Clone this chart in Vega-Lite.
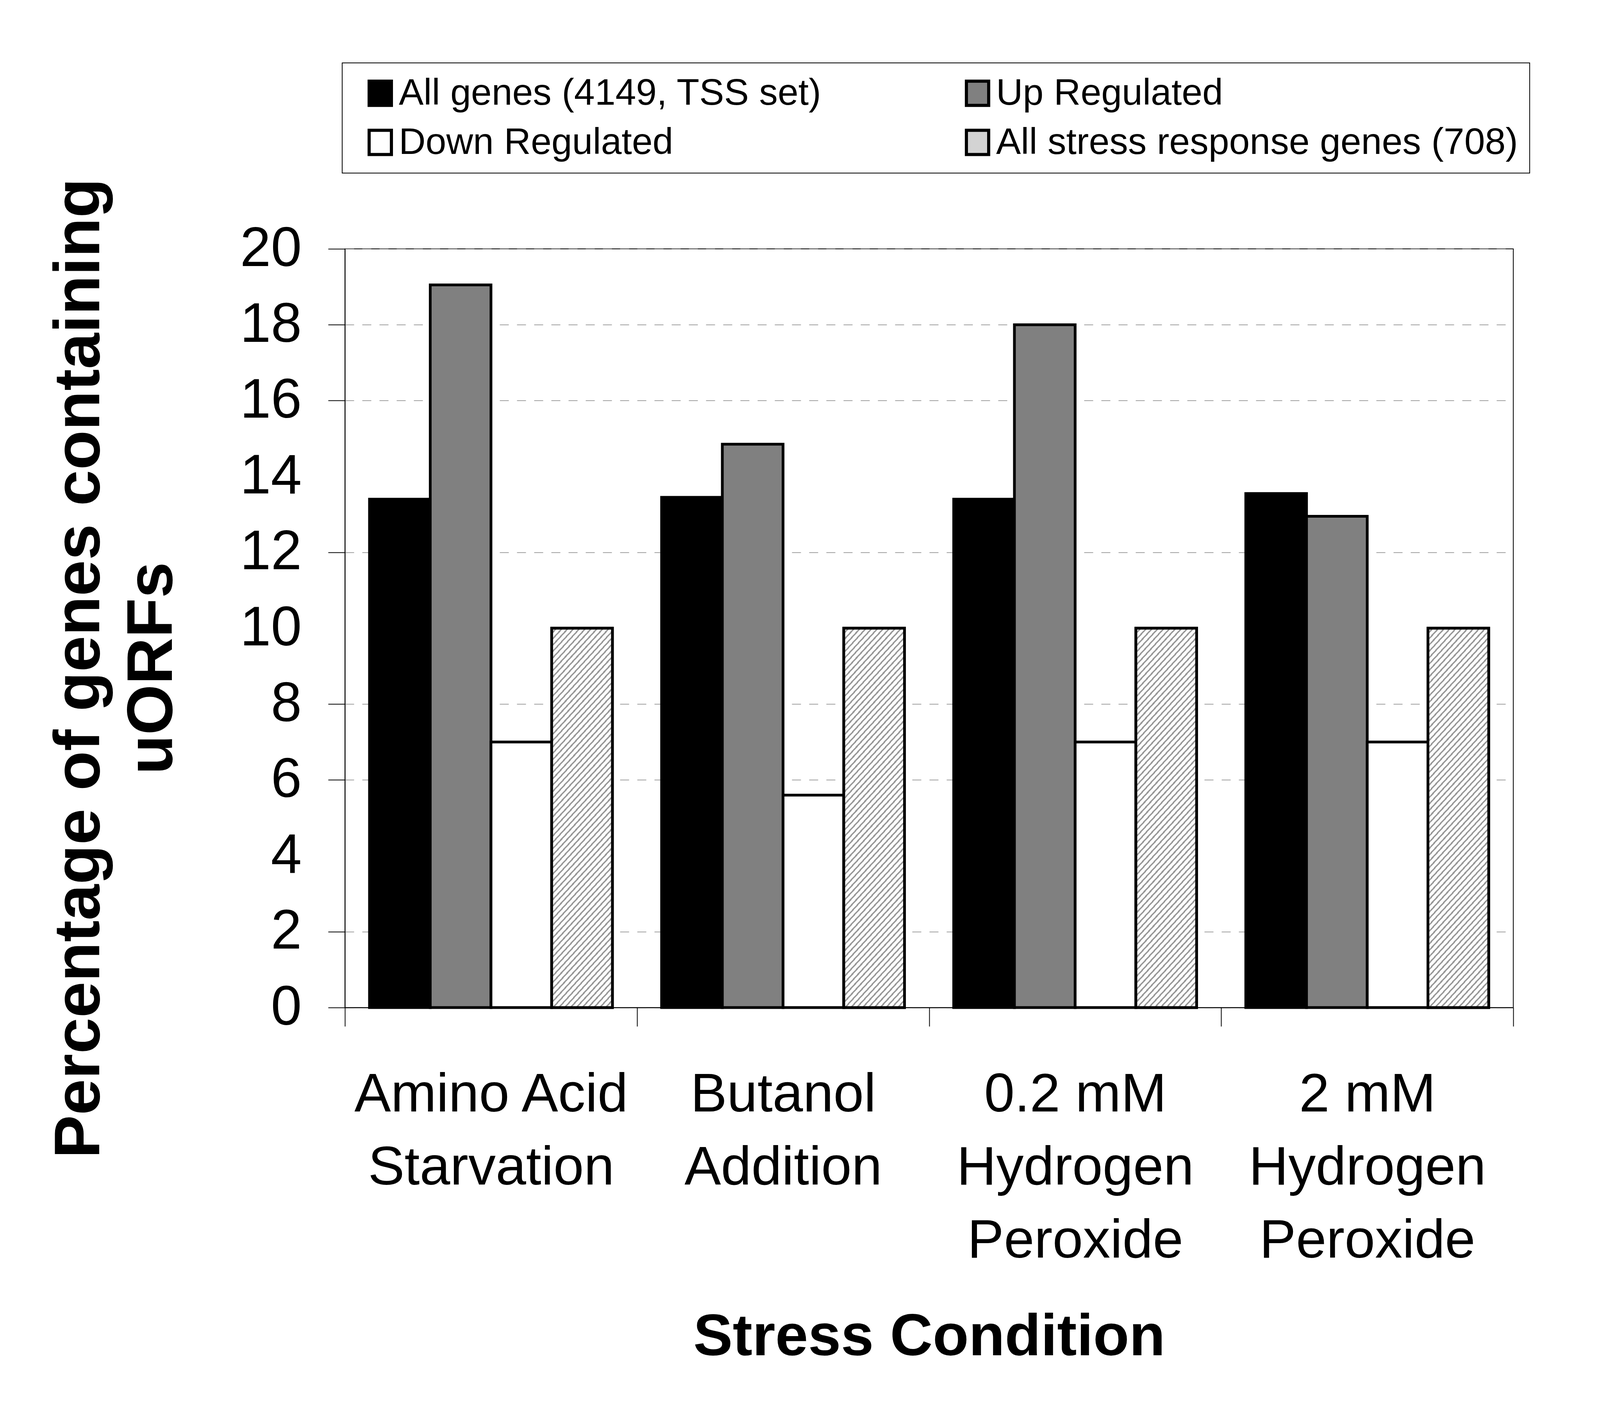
{
  "$schema": "https://vega.github.io/schema/vega-lite/v6.json",
  "autosize": {"type": "none"},
  "padding": {"left": 883, "top": 637, "right": 579, "bottom": 1025},
  "width": 2991,
  "height": 1942,
  "background": "white",
  "config": {
    "font": "Liberation Sans",
    "view": {"stroke": "black", "strokeWidth": 2},
    "legend": {"strokeWidth": 2}
  },
  "data": {
    "values": [
      {"condition": "Amino Acid Starvation", "series": "All genes (4149, TSS set)", "value": 13.4},
      {"condition": "Amino Acid Starvation", "series": "Up Regulated", "value": 19.05},
      {"condition": "Amino Acid Starvation", "series": "Down Regulated", "value": 7.0},
      {"condition": "Amino Acid Starvation", "series": "All stress response genes (708)", "value": 10.0},
      {"condition": "Butanol Addition", "series": "All genes (4149, TSS set)", "value": 13.45},
      {"condition": "Butanol Addition", "series": "Up Regulated", "value": 14.85},
      {"condition": "Butanol Addition", "series": "Down Regulated", "value": 5.6},
      {"condition": "Butanol Addition", "series": "All stress response genes (708)", "value": 10.0},
      {"condition": "0.2 mM Hydrogen Peroxide", "series": "All genes (4149, TSS set)", "value": 13.4},
      {"condition": "0.2 mM Hydrogen Peroxide", "series": "Up Regulated", "value": 18.0},
      {"condition": "0.2 mM Hydrogen Peroxide", "series": "Down Regulated", "value": 7.0},
      {"condition": "0.2 mM Hydrogen Peroxide", "series": "All stress response genes (708)", "value": 10.0},
      {"condition": "2 mM Hydrogen Peroxide", "series": "All genes (4149, TSS set)", "value": 13.55},
      {"condition": "2 mM Hydrogen Peroxide", "series": "Up Regulated", "value": 12.95},
      {"condition": "2 mM Hydrogen Peroxide", "series": "Down Regulated", "value": 7.0},
      {"condition": "2 mM Hydrogen Peroxide", "series": "All stress response genes (708)", "value": 10.0}
    ]
  },
  "encoding": {
    "x": {
      "field": "condition",
      "type": "nominal",
      "scale": {
        "domain": ["Amino Acid Starvation", "Butanol Addition", "0.2 mM Hydrogen Peroxide", "2 mM Hydrogen Peroxide"],
        "paddingInner": 0,
        "paddingOuter": 0
      },
      "axis": {
        "title": "Stress Condition",
        "titleFontSize": 151,
        "titleFontWeight": "bold",
        "titleColor": "black",
        "titleBaseline": "alphabetic",
        "titleY": 889,
        "titleLimit": 4000,
        "labelExpr": "datum.label == 'Amino Acid Starvation' ? ['Amino Acid', 'Starvation'] : datum.label == 'Butanol Addition' ? ['Butanol', 'Addition'] : datum.label == '0.2 mM Hydrogen Peroxide' ? ['0.2 mM', 'Hydrogen', 'Peroxide'] : datum.label == '2 mM Hydrogen Peroxide' ? ['2 mM', 'Hydrogen', 'Peroxide'] : ''",
        "labelFontSize": 140,
        "labelLineHeight": 187,
        "labelColor": "black",
        "labelAngle": 0,
        "labelPadding": 106,
        "labelLimit": 4000,
        "labelOverlap": false,
        "labelBaseline": "top",
        "tickBand": "extent",
        "tickSize": 48,
        "tickColor": "black",
        "tickWidth": 2,
        "domainColor": "black",
        "domainWidth": 2,
        "grid": false
      }
    },
    "xOffset": {
      "field": "series",
      "type": "nominal",
      "scale": {
        "domain": ["All genes (4149, TSS set)", "Up Regulated", "Down Regulated", "All stress response genes (708)"],
        "paddingInner": 0,
        "paddingOuter": 0.405
      }
    },
    "y": {
      "field": "value",
      "type": "quantitative",
      "scale": {"domain": [0, 20], "nice": false},
      "axis": {
        "title": ["Percentage of genes containing", "uORFs"],
        "titleFontSize": 166,
        "titleFontWeight": "bold",
        "titleColor": "black",
        "titleLineHeight": 186,
        "titleAngle": -90,
        "titleAlign": "center",
        "titleBaseline": "alphabetic",
        "titleX": -630,
        "titleY": 1073,
        "titleLimit": 4000,
        "values": [0, 2, 4, 6, 8, 10, 12, 14, 16, 18, 20],
        "labelFontSize": 142,
        "labelColor": "black",
        "labelPadding": 68,
        "tickSize": 43,
        "tickColor": "black",
        "tickWidth": 2,
        "tickOpacity": {"condition": {"test": "datum.value == 4 || datum.value == 10 || datum.value == 14", "value": 0}, "value": 1},
        "domainColor": "black",
        "domainWidth": 2,
        "grid": true,
        "gridColor": "#808080",
        "gridWidth": 1.5,
        "gridDash": [23, 21],
        "gridOpacity": {"condition": {"test": "datum.value == 4 || datum.value == 10 || datum.value == 14", "value": 0}, "value": 1}
      }
    }
  },
  "layer": [
    {
      "mark": {"type": "bar", "stroke": "black", "strokeWidth": 7},
      "encoding": {
        "color": {
          "field": "series",
          "type": "nominal",
          "scale": {
            "domain": ["All genes (4149, TSS set)", "Up Regulated", "Down Regulated", "All stress response genes (708)"],
            "range": ["#000000", "#808080", "#ffffff", "#d3d3d3"]
          },
          "legend": {
            "title": null,
            "orient": "none",
            "legendX": -7,
            "legendY": -476,
            "direction": "horizontal",
            "columns": 2,
            "columnPadding": 331,
            "rowPadding": 30,
            "padding": 30,
            "strokeColor": "black",
            "fillColor": "white",
            "symbolType": "M-0.92,-1H0.92V1H-0.92Z",
            "symbolSize": 3844,
            "symbolStrokeColor": "black",
            "symbolStrokeWidth": 8,
            "symbolOffset": 20,
            "labelFontSize": 95,
            "labelColor": "black",
            "labelOffset": 0,
            "labelLimit": 4000,
            "encoding": {
              "symbols": {
                "stroke": {"value": "black"},
                "strokeWidth": {"value": 8}
              }
            }
          }
        }
      }
    },
    {
      "transform": [{"filter": "datum.series == 'All stress response genes (708)'"}],
      "mark": {
        "type": "bar",
        "stroke": "black",
        "strokeWidth": 7,
        "fill": {
          "gradient": "linear", "x1": 0, "y1": 0, "x2": 0.1983, "y2": 1.1396,
          "stops": [
            {"offset": 0, "color": "#fff"}, {"offset": 0.0095, "color": "#fff"}, {"offset": 0.0095, "color": "#999"}, {"offset": 0.0143, "color": "#999"},
            {"offset": 0.0143, "color": "#fff"}, {"offset": 0.0238, "color": "#fff"}, {"offset": 0.0238, "color": "#999"}, {"offset": 0.0286, "color": "#999"},
            {"offset": 0.0286, "color": "#fff"}, {"offset": 0.0381, "color": "#fff"}, {"offset": 0.0381, "color": "#999"}, {"offset": 0.0429, "color": "#999"},
            {"offset": 0.0429, "color": "#fff"}, {"offset": 0.0524, "color": "#fff"}, {"offset": 0.0524, "color": "#999"}, {"offset": 0.0571, "color": "#999"},
            {"offset": 0.0571, "color": "#fff"}, {"offset": 0.0667, "color": "#fff"}, {"offset": 0.0667, "color": "#999"}, {"offset": 0.0714, "color": "#999"},
            {"offset": 0.0714, "color": "#fff"}, {"offset": 0.081, "color": "#fff"}, {"offset": 0.081, "color": "#999"}, {"offset": 0.0857, "color": "#999"},
            {"offset": 0.0857, "color": "#fff"}, {"offset": 0.0952, "color": "#fff"}, {"offset": 0.0952, "color": "#999"}, {"offset": 0.1, "color": "#999"},
            {"offset": 0.1, "color": "#fff"}, {"offset": 0.1095, "color": "#fff"}, {"offset": 0.1095, "color": "#999"}, {"offset": 0.1143, "color": "#999"},
            {"offset": 0.1143, "color": "#fff"}, {"offset": 0.1238, "color": "#fff"}, {"offset": 0.1238, "color": "#999"}, {"offset": 0.1286, "color": "#999"},
            {"offset": 0.1286, "color": "#fff"}, {"offset": 0.1381, "color": "#fff"}, {"offset": 0.1381, "color": "#999"}, {"offset": 0.1429, "color": "#999"},
            {"offset": 0.1429, "color": "#fff"}, {"offset": 0.1524, "color": "#fff"}, {"offset": 0.1524, "color": "#999"}, {"offset": 0.1571, "color": "#999"},
            {"offset": 0.1571, "color": "#fff"}, {"offset": 0.1667, "color": "#fff"}, {"offset": 0.1667, "color": "#999"}, {"offset": 0.1714, "color": "#999"},
            {"offset": 0.1714, "color": "#fff"}, {"offset": 0.181, "color": "#fff"}, {"offset": 0.181, "color": "#999"}, {"offset": 0.1857, "color": "#999"},
            {"offset": 0.1857, "color": "#fff"}, {"offset": 0.1952, "color": "#fff"}, {"offset": 0.1952, "color": "#999"}, {"offset": 0.2, "color": "#999"},
            {"offset": 0.2, "color": "#fff"}, {"offset": 0.2095, "color": "#fff"}, {"offset": 0.2095, "color": "#999"}, {"offset": 0.2143, "color": "#999"},
            {"offset": 0.2143, "color": "#fff"}, {"offset": 0.2238, "color": "#fff"}, {"offset": 0.2238, "color": "#999"}, {"offset": 0.2286, "color": "#999"},
            {"offset": 0.2286, "color": "#fff"}, {"offset": 0.2381, "color": "#fff"}, {"offset": 0.2381, "color": "#999"}, {"offset": 0.2429, "color": "#999"},
            {"offset": 0.2429, "color": "#fff"}, {"offset": 0.2524, "color": "#fff"}, {"offset": 0.2524, "color": "#999"}, {"offset": 0.2571, "color": "#999"},
            {"offset": 0.2571, "color": "#fff"}, {"offset": 0.2667, "color": "#fff"}, {"offset": 0.2667, "color": "#999"}, {"offset": 0.2714, "color": "#999"},
            {"offset": 0.2714, "color": "#fff"}, {"offset": 0.281, "color": "#fff"}, {"offset": 0.281, "color": "#999"}, {"offset": 0.2857, "color": "#999"},
            {"offset": 0.2857, "color": "#fff"}, {"offset": 0.2952, "color": "#fff"}, {"offset": 0.2952, "color": "#999"}, {"offset": 0.3, "color": "#999"},
            {"offset": 0.3, "color": "#fff"}, {"offset": 0.3095, "color": "#fff"}, {"offset": 0.3095, "color": "#999"}, {"offset": 0.3143, "color": "#999"},
            {"offset": 0.3143, "color": "#fff"}, {"offset": 0.3238, "color": "#fff"}, {"offset": 0.3238, "color": "#999"}, {"offset": 0.3286, "color": "#999"},
            {"offset": 0.3286, "color": "#fff"}, {"offset": 0.3381, "color": "#fff"}, {"offset": 0.3381, "color": "#999"}, {"offset": 0.3429, "color": "#999"},
            {"offset": 0.3429, "color": "#fff"}, {"offset": 0.3524, "color": "#fff"}, {"offset": 0.3524, "color": "#999"}, {"offset": 0.3571, "color": "#999"},
            {"offset": 0.3571, "color": "#fff"}, {"offset": 0.3667, "color": "#fff"}, {"offset": 0.3667, "color": "#999"}, {"offset": 0.3714, "color": "#999"},
            {"offset": 0.3714, "color": "#fff"}, {"offset": 0.381, "color": "#fff"}, {"offset": 0.381, "color": "#999"}, {"offset": 0.3857, "color": "#999"},
            {"offset": 0.3857, "color": "#fff"}, {"offset": 0.3952, "color": "#fff"}, {"offset": 0.3952, "color": "#999"}, {"offset": 0.4, "color": "#999"},
            {"offset": 0.4, "color": "#fff"}, {"offset": 0.4095, "color": "#fff"}, {"offset": 0.4095, "color": "#999"}, {"offset": 0.4143, "color": "#999"},
            {"offset": 0.4143, "color": "#fff"}, {"offset": 0.4238, "color": "#fff"}, {"offset": 0.4238, "color": "#999"}, {"offset": 0.4286, "color": "#999"},
            {"offset": 0.4286, "color": "#fff"}, {"offset": 0.4381, "color": "#fff"}, {"offset": 0.4381, "color": "#999"}, {"offset": 0.4429, "color": "#999"},
            {"offset": 0.4429, "color": "#fff"}, {"offset": 0.4524, "color": "#fff"}, {"offset": 0.4524, "color": "#999"}, {"offset": 0.4571, "color": "#999"},
            {"offset": 0.4571, "color": "#fff"}, {"offset": 0.4667, "color": "#fff"}, {"offset": 0.4667, "color": "#999"}, {"offset": 0.4714, "color": "#999"},
            {"offset": 0.4714, "color": "#fff"}, {"offset": 0.481, "color": "#fff"}, {"offset": 0.481, "color": "#999"}, {"offset": 0.4857, "color": "#999"},
            {"offset": 0.4857, "color": "#fff"}, {"offset": 0.4952, "color": "#fff"}, {"offset": 0.4952, "color": "#999"}, {"offset": 0.5, "color": "#999"},
            {"offset": 0.5, "color": "#fff"}, {"offset": 0.5095, "color": "#fff"}, {"offset": 0.5095, "color": "#999"}, {"offset": 0.5143, "color": "#999"},
            {"offset": 0.5143, "color": "#fff"}, {"offset": 0.5238, "color": "#fff"}, {"offset": 0.5238, "color": "#999"}, {"offset": 0.5286, "color": "#999"},
            {"offset": 0.5286, "color": "#fff"}, {"offset": 0.5381, "color": "#fff"}, {"offset": 0.5381, "color": "#999"}, {"offset": 0.5429, "color": "#999"},
            {"offset": 0.5429, "color": "#fff"}, {"offset": 0.5524, "color": "#fff"}, {"offset": 0.5524, "color": "#999"}, {"offset": 0.5571, "color": "#999"},
            {"offset": 0.5571, "color": "#fff"}, {"offset": 0.5667, "color": "#fff"}, {"offset": 0.5667, "color": "#999"}, {"offset": 0.5714, "color": "#999"},
            {"offset": 0.5714, "color": "#fff"}, {"offset": 0.581, "color": "#fff"}, {"offset": 0.581, "color": "#999"}, {"offset": 0.5857, "color": "#999"},
            {"offset": 0.5857, "color": "#fff"}, {"offset": 0.5952, "color": "#fff"}, {"offset": 0.5952, "color": "#999"}, {"offset": 0.6, "color": "#999"},
            {"offset": 0.6, "color": "#fff"}, {"offset": 0.6095, "color": "#fff"}, {"offset": 0.6095, "color": "#999"}, {"offset": 0.6143, "color": "#999"},
            {"offset": 0.6143, "color": "#fff"}, {"offset": 0.6238, "color": "#fff"}, {"offset": 0.6238, "color": "#999"}, {"offset": 0.6286, "color": "#999"},
            {"offset": 0.6286, "color": "#fff"}, {"offset": 0.6381, "color": "#fff"}, {"offset": 0.6381, "color": "#999"}, {"offset": 0.6429, "color": "#999"},
            {"offset": 0.6429, "color": "#fff"}, {"offset": 0.6524, "color": "#fff"}, {"offset": 0.6524, "color": "#999"}, {"offset": 0.6571, "color": "#999"},
            {"offset": 0.6571, "color": "#fff"}, {"offset": 0.6667, "color": "#fff"}, {"offset": 0.6667, "color": "#999"}, {"offset": 0.6714, "color": "#999"},
            {"offset": 0.6714, "color": "#fff"}, {"offset": 0.681, "color": "#fff"}, {"offset": 0.681, "color": "#999"}, {"offset": 0.6857, "color": "#999"},
            {"offset": 0.6857, "color": "#fff"}, {"offset": 0.6952, "color": "#fff"}, {"offset": 0.6952, "color": "#999"}, {"offset": 0.7, "color": "#999"},
            {"offset": 0.7, "color": "#fff"}, {"offset": 0.7095, "color": "#fff"}, {"offset": 0.7095, "color": "#999"}, {"offset": 0.7143, "color": "#999"},
            {"offset": 0.7143, "color": "#fff"}, {"offset": 0.7238, "color": "#fff"}, {"offset": 0.7238, "color": "#999"}, {"offset": 0.7286, "color": "#999"},
            {"offset": 0.7286, "color": "#fff"}, {"offset": 0.7381, "color": "#fff"}, {"offset": 0.7381, "color": "#999"}, {"offset": 0.7429, "color": "#999"},
            {"offset": 0.7429, "color": "#fff"}, {"offset": 0.7524, "color": "#fff"}, {"offset": 0.7524, "color": "#999"}, {"offset": 0.7571, "color": "#999"},
            {"offset": 0.7571, "color": "#fff"}, {"offset": 0.7667, "color": "#fff"}, {"offset": 0.7667, "color": "#999"}, {"offset": 0.7714, "color": "#999"},
            {"offset": 0.7714, "color": "#fff"}, {"offset": 0.781, "color": "#fff"}, {"offset": 0.781, "color": "#999"}, {"offset": 0.7857, "color": "#999"},
            {"offset": 0.7857, "color": "#fff"}, {"offset": 0.7952, "color": "#fff"}, {"offset": 0.7952, "color": "#999"}, {"offset": 0.8, "color": "#999"},
            {"offset": 0.8, "color": "#fff"}, {"offset": 0.8095, "color": "#fff"}, {"offset": 0.8095, "color": "#999"}, {"offset": 0.8143, "color": "#999"},
            {"offset": 0.8143, "color": "#fff"}, {"offset": 0.8238, "color": "#fff"}, {"offset": 0.8238, "color": "#999"}, {"offset": 0.8286, "color": "#999"},
            {"offset": 0.8286, "color": "#fff"}, {"offset": 0.8381, "color": "#fff"}, {"offset": 0.8381, "color": "#999"}, {"offset": 0.8429, "color": "#999"},
            {"offset": 0.8429, "color": "#fff"}, {"offset": 0.8524, "color": "#fff"}, {"offset": 0.8524, "color": "#999"}, {"offset": 0.8571, "color": "#999"},
            {"offset": 0.8571, "color": "#fff"}, {"offset": 0.8667, "color": "#fff"}, {"offset": 0.8667, "color": "#999"}, {"offset": 0.8714, "color": "#999"},
            {"offset": 0.8714, "color": "#fff"}, {"offset": 0.881, "color": "#fff"}, {"offset": 0.881, "color": "#999"}, {"offset": 0.8857, "color": "#999"},
            {"offset": 0.8857, "color": "#fff"}, {"offset": 0.8952, "color": "#fff"}, {"offset": 0.8952, "color": "#999"}, {"offset": 0.9, "color": "#999"},
            {"offset": 0.9, "color": "#fff"}, {"offset": 0.9095, "color": "#fff"}, {"offset": 0.9095, "color": "#999"}, {"offset": 0.9143, "color": "#999"},
            {"offset": 0.9143, "color": "#fff"}, {"offset": 0.9238, "color": "#fff"}, {"offset": 0.9238, "color": "#999"}, {"offset": 0.9286, "color": "#999"},
            {"offset": 0.9286, "color": "#fff"}, {"offset": 0.9381, "color": "#fff"}, {"offset": 0.9381, "color": "#999"}, {"offset": 0.9429, "color": "#999"},
            {"offset": 0.9429, "color": "#fff"}, {"offset": 0.9524, "color": "#fff"}, {"offset": 0.9524, "color": "#999"}, {"offset": 0.9571, "color": "#999"},
            {"offset": 0.9571, "color": "#fff"}, {"offset": 0.9667, "color": "#fff"}, {"offset": 0.9667, "color": "#999"}, {"offset": 0.9714, "color": "#999"},
            {"offset": 0.9714, "color": "#fff"}, {"offset": 0.981, "color": "#fff"}, {"offset": 0.981, "color": "#999"}, {"offset": 0.9857, "color": "#999"},
            {"offset": 0.9857, "color": "#fff"}, {"offset": 0.9952, "color": "#fff"}, {"offset": 0.9952, "color": "#999"}, {"offset": 1, "color": "#999"}
          ]
        }
      }
    }
  ]
}
